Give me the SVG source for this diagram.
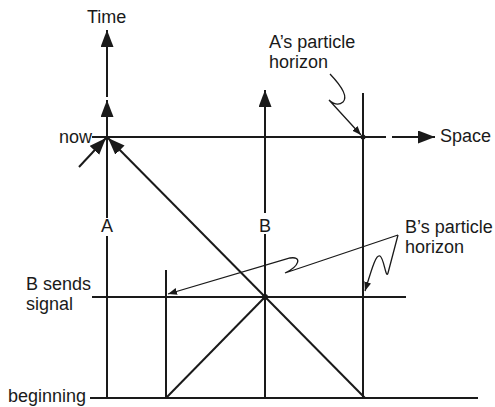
<svg xmlns="http://www.w3.org/2000/svg" width="495" height="407" viewBox="0 0 495 407">
<style>
.l{stroke:#1a1a1a;stroke-width:2;fill:none}
.t{stroke:#1a1a1a;stroke-width:1.3;fill:none}
text{font-family:"Liberation Sans",Arial,sans-serif;font-size:18px;fill:#1a1a1a}
</style>
<defs>
<marker id="ah" markerUnits="userSpaceOnUse" markerWidth="18" markerHeight="14" refX="17" refY="6.5" orient="auto">
<path d="M0,0 L17,6.5 L0,13 z" fill="#1a1a1a"/>
</marker>
<marker id="sa" markerUnits="userSpaceOnUse" markerWidth="10" markerHeight="8" refX="9" refY="3.5" orient="auto">
<path d="M0,0 L9,3.5 L0,7 z" fill="#1a1a1a"/>
</marker>
</defs>
<rect width="495" height="407" fill="#fff"/>
<g id="axes">
<line class="l" x1="107" y1="97" x2="107" y2="30" marker-end="url(#ah)"/>
<line class="l" x1="107" y1="218" x2="107" y2="100" marker-end="url(#ah)"/>
<line class="l" x1="107" y1="236" x2="107" y2="398"/>
<line class="l" x1="92" y1="137" x2="386" y2="137"/>
<line class="l" x1="392" y1="137" x2="435" y2="137" marker-end="url(#ah)"/>
<line class="l" x1="265" y1="213" x2="265" y2="90" marker-end="url(#ah)"/>
<line class="l" x1="265" y1="234" x2="265" y2="398"/>
<line class="l" x1="363" y1="93" x2="363" y2="398"/>
<line class="l" x1="166" y1="270" x2="166" y2="398"/>
<line class="l" x1="92" y1="297" x2="406" y2="297"/>
<line class="l" x1="90" y1="398" x2="478" y2="398" stroke-width="3"/>
</g>
<g id="connectors">
<line class="l" x1="365" y1="398" x2="108" y2="138" marker-end="url(#ah)"/>
<line class="l" x1="265" y1="297" x2="166" y2="398"/>
<line class="l" x1="79" y1="167" x2="106" y2="138" marker-end="url(#ah)"/>
<path class="t" d="M330,74 Q350,95 343,102 Q337,107 329,100 L361,135" marker-end="url(#sa)"/>
<path class="t" d="M398,235 L285,273 C300,266 302,256 290,258 L168,294" marker-end="url(#sa)"/>
<path class="t" d="M398,235 L388,273 C386,280 384,258 380,256 C376,254 372,268 365,291" marker-end="url(#sa)"/>
<circle cx="265" cy="297" r="3" fill="#1a1a1a"/>
<circle cx="363" cy="137" r="2.5" fill="#1a1a1a"/>
</g>
<g id="labels">
<text x="87" y="23">Time</text>
<text x="92" y="143" text-anchor="end">now</text>
<text x="440" y="142">Space</text>
<text x="269" y="48">A’s particle</text>
<text x="269" y="68">horizon</text>
<text x="107" y="232" text-anchor="middle">A</text>
<text x="265" y="232" text-anchor="middle">B</text>
<text x="405" y="233">B’s particle</text>
<text x="405" y="253">horizon</text>
<text x="26" y="290">B sends</text>
<text x="26" y="310">signal</text>
<text x="8" y="402">beginning</text>
</g>
</svg>
